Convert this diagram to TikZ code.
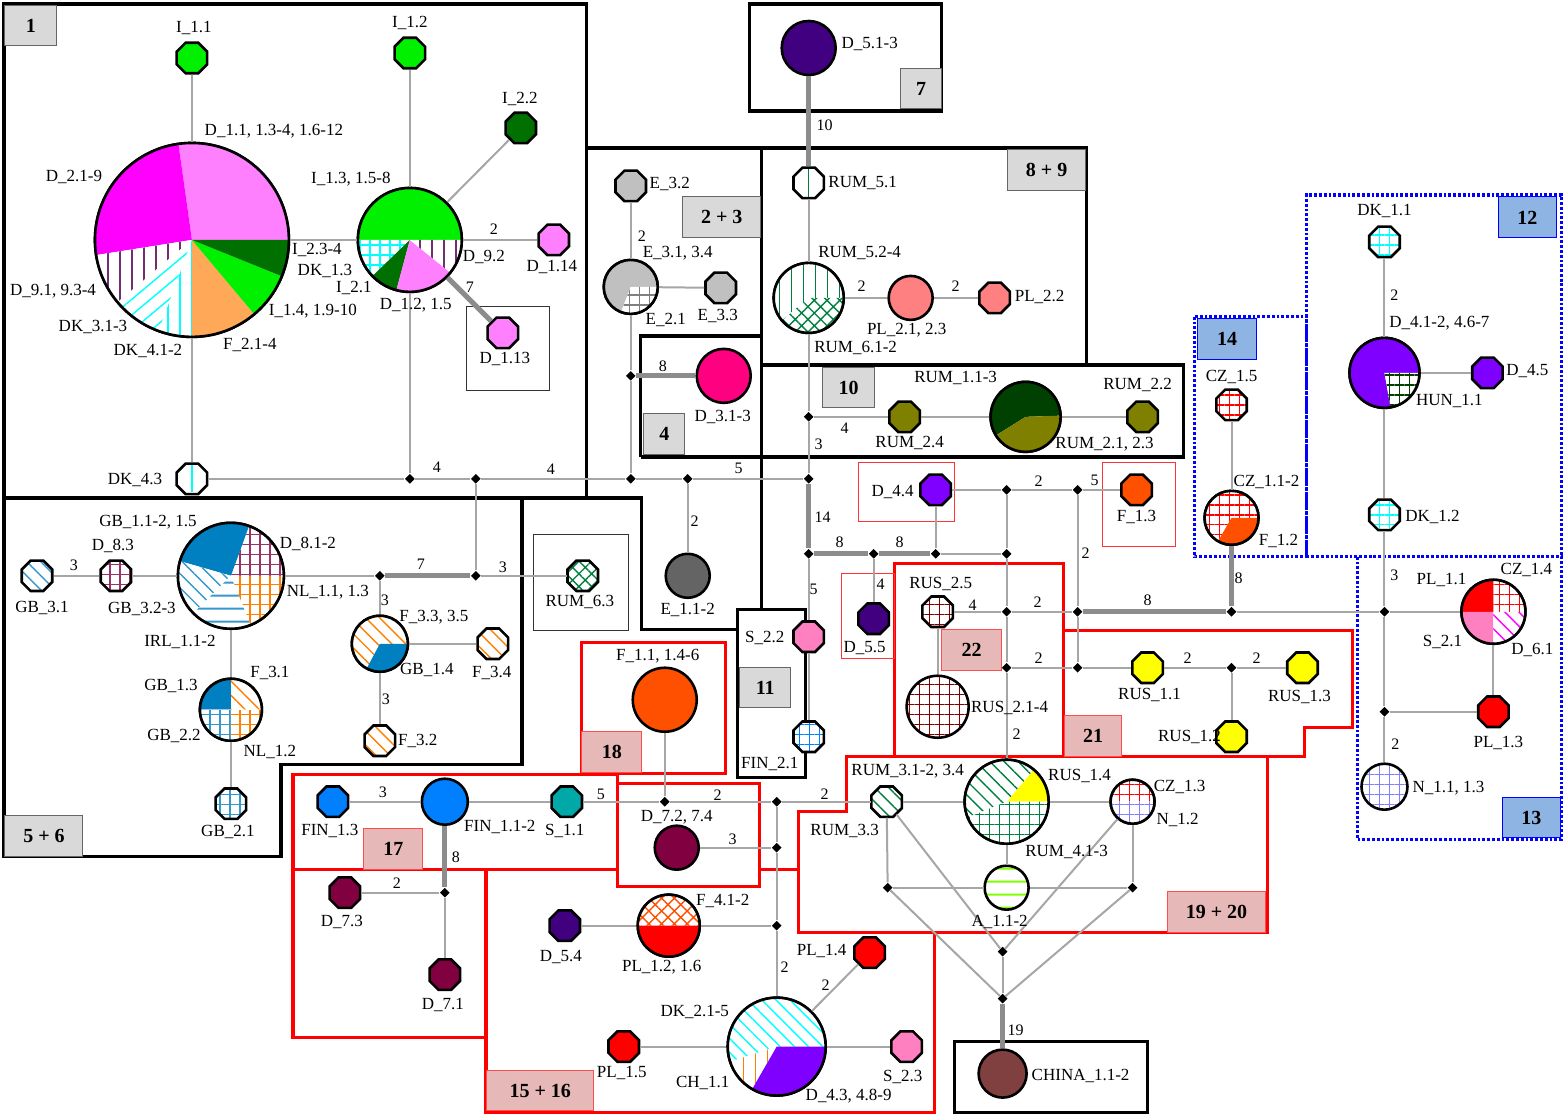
\documentclass[tikz,border=0pt]{standalone}
\usepackage{fontspec}
\setmainfont{Liberation Serif}
\usetikzlibrary{shapes.geometric,patterns.meta}

\definecolor{iGreen}{RGB}{0,240,0}
\definecolor{iDark}{RGB}{0,112,0}
\definecolor{dPink}{RGB}{255,128,255}
\definecolor{dMag}{RGB}{255,0,255}
\definecolor{dNine}{RGB}{112,48,112}
\definecolor{dkCyan}{RGB}{0,255,255}
\definecolor{fOrange}{RGB}{255,168,88}
\definecolor{eGray}{RGB}{192,192,192}
\definecolor{eDark}{RGB}{100,100,100}
\definecolor{dRose}{RGB}{255,0,128}
\definecolor{dIndigo}{RGB}{64,0,128}
\definecolor{rumGreen}{RGB}{0,128,64}
\definecolor{plSalmon}{RGB}{255,128,128}
\definecolor{olive2}{RGB}{128,128,0}
\definecolor{rumDark}{RGB}{0,64,0}
\definecolor{dViolet}{RGB}{128,0,255}
\definecolor{fRed}{RGB}{255,80,0}
\definecolor{sPink}{RGB}{255,128,192}
\definecolor{finBlue}{RGB}{0,128,255}
\definecolor{rusBrown}{RGB}{128,0,0}
\definecolor{rusYellow}{RGB}{255,255,0}
\definecolor{nBlue}{RGB}{128,128,255}
\definecolor{sTeal}{RGB}{0,168,168}
\definecolor{dMaroon}{RGB}{128,0,64}
\definecolor{aLime}{RGB}{128,255,0}
\definecolor{chBrown}{RGB}{128,64,64}
\definecolor{gbBlue}{RGB}{0,128,192}
\definecolor{gbLine}{RGB}{51,153,204}
\definecolor{gbPurple}{RGB}{153,51,102}
\definecolor{nlOrange}{RGB}{255,128,0}
\definecolor{czRed}{RGB}{255,0,0}
\definecolor{tagGray}{RGB}{217,217,217}
\definecolor{tagPink}{RGB}{230,184,183}
\definecolor{tagBlue}{RGB}{141,180,226}

% one sector of a pie: node, radius (pt), start, end, fill
\newcommand\pieslice[5]{%
  \fill[#5] (#1.center) -- ++(#3:#2pt) arc[start angle=#3, end angle=#4, radius=#2pt] -- cycle;}
\newcommand\rim[2]{\draw[line width=1.3pt] (#1.center) circle[radius=#2pt];}

\tikzset{
  pVert/.style={preaction={fill=white}, pattern={Lines[angle=90,distance=6pt,line width=.7pt]}, pattern color=#1},
  pHor/.style={preaction={fill=white}, pattern={Lines[angle=0,distance=6.5pt,line width=1pt]}, pattern color=#1},
  pFwd/.style={preaction={fill=white}, pattern={Lines[angle=40,distance=6pt,line width=.7pt]}, pattern color=#1},
  pBack/.style={preaction={fill=white}, pattern={Lines[angle=-45,distance=5pt,line width=.7pt]}, pattern color=#1},
  pGrid/.style={preaction={fill=white}, pattern={Hatch[angle=0,distance=5pt,line width=.7pt]}, pattern color=#1},
  pCross/.style={preaction={fill=white}, pattern={Hatch[angle=45,distance=4.5pt,line width=.7pt]}, pattern color=#1},
}

\begin{document}
\begin{tikzpicture}[x=0.5pt, y=-0.5pt,
  hap/.style={regular polygon, regular polygon sides=8, minimum size=16.5pt,
    inner sep=0pt, draw=black, line width=1.3pt, fill=#1},
  blob/.style={circle, minimum size=#1pt, inner sep=0pt, draw=black, line width=1.3pt},
  jn/.style={diamond, fill=black, inner sep=0pt, minimum size=5pt},
  link/.style={gray!70, line width=1pt},
  fat/.style={gray!90, line width=2.6pt},
  lab/.style={font=\fontsize{8.5}{9}\selectfont, inner sep=0.5pt},
  num/.style={font=\fontsize{8}{9}\selectfont, inner sep=0.5pt},
  grp/.style={draw=black, line width=1.7pt},
  rgrp/.style={draw=red, line width=1.7pt},
  rthin/.style={draw=red!80, line width=0.6pt},
  bthin/.style={draw=black!80, line width=0.6pt},
  bdot/.style={draw=blue, line width=1.6pt, dash pattern=on 1.4pt off 1pt},
  tagG/.style={fill=tagGray, draw=black!60, line width=0.5pt, inner sep=0pt,
    font=\fontsize{10}{12}\selectfont\bfseries},
  tagR/.style={tagG, fill=tagPink, draw=red!70},
  tagB/.style={tagG, fill=tagBlue, draw=blue}]

  \path[fill=white] (0,0) rectangle (1563,1115);

  % group outlines
  \draw[grp] (4,4) rectangle (587,498);
  \draw[grp] (587,498) -- (642,498) -- (642,630) -- (738,630);
  \draw[grp] (4,498) -- (4,857) -- (281,857) -- (281,765) -- (522,765) -- (522,498);
  \draw[grp] (587,148) -- (1087,148) -- (1087,365);
  \draw[grp] (750,4) rectangle (942,111);
  \draw[grp] (762,148) -- (762,610);
  \draw[grp] (641,457) -- (641,336) -- (762,336);
  \draw[grp] (641,457) -- (1184,457) -- (1184,365) -- (762,365);
  \draw[grp] (738,610) rectangle (806,778);
  \draw[grp] (955,1042) rectangle (1148,1113);

  \draw[rgrp] (582,643) rectangle (726,774);
  \draw[rgrp] (293,775) rectangle (618,870);
  \draw[rgrp] (618,784) rectangle (760,887);
  \draw[rgrp] (293,870) rectangle (486,1038);
  \draw[rgrp] (760,870) -- (799,870);
  \draw[rgrp] (486,1038) -- (486,1113) -- (935,1113) -- (935,933);
  \draw[rgrp] (847,757) -- (1268,757) -- (1268,933) -- (799,933) -- (799,812) -- (847,812) -- cycle;
  \draw[rgrp] (895,564) rectangle (1064,757);
  \draw[rgrp] (1064,631) -- (1353,631) -- (1353,728) -- (1305,728) -- (1305,757) -- (1064,757);

  \draw[rthin] (859,463) rectangle (955,522);
  \draw[rthin] (1103,463) rectangle (1176,547);
  \draw[rthin] (842,574) rectangle (895,659);
  \draw[bthin] (467,307) rectangle (550,391);
  \draw[bthin] (534,535) rectangle (629,631);

  \draw[bdot] (1307,557) -- (1307,195) -- (1562,195) -- (1562,557);
  \draw[bdot] (1195,317) rectangle (1307,557);
  \draw[bdot] (1307,557) -- (1562,557);
  \draw[bdot] (1358,557) rectangle (1562,840);

  % haplotypes
  \foreach \n/\x/\y/\c in {i11/192/58/iGreen, i12/410/53/iGreen, i22/521/128/iDark,
      d114/554/240/dPink, d113/503/333/dPink, e32/631/186/eGray, e33/721/288/eGray,
      pl22/995/298/plSalmon, rum24/905/417/olive2, rum22/1143/417/olive2,
      d44/936/490/dViolet, f13/1137/490/fRed, d55/874/619/dIndigo, s22/809/637/sPink,
      rus11/1148/668/rusYellow, rus13/1303/668/rusYellow, rus12/1232/737/rusYellow,
      d45/1488/373/dViolet, pl13/1494/712/czRed, fin13/333/802/finBlue, s11/567/802/sTeal,
      d73/345/893/dMaroon, d71/445/975/dMaroon, d54/565/926/dIndigo,
      pl14/870/953/czRed, pl15/624/1047/czRed, s23/907/1047/sPink}
    \node[hap=\c] (\n) at (\x,\y) {};

  \node[hap=white, pGrid=dkCyan] (dk11) at (1385,242) {};
  \node[hap=white, pGrid=dkCyan] (dk12) at (1385,515) {};
  \node[hap=white, pGrid=finBlue] (fin21) at (809,737) {};
  \node[hap=white, pGrid=rusBrown] (rus25) at (938,612) {};
  \node[hap=white, pGrid=czRed] (cz15) at (1232,405) {};
  \node[hap=white, pBack=rumGreen] (rum31) at (887,802) {};
  \node[hap=white, pBack=gbLine] (gb31) at (37,576) {};
  \node[hap=white, pGrid=gbPurple] (d83) at (116,576) {};
  \node[hap=white, pBack=nlOrange] (f34) at (493,644) {};
  \node[hap=white, pBack=nlOrange] (f32) at (380,741) {};
  \node[hap=white, pGrid=gbLine] (gb21) at (231,804) {};
  \node[hap=white, pCross=rumGreen] (rum63) at (583,576) {};
  \node[hap=white] (dk43) at (192,479) {};
  \node[hap=white] (rum51) at (809,183) {};
  \draw[dkCyan, line width=1pt] ([yshift=-6.8pt]dk43.center) -- ([yshift=6.8pt]dk43.center);
  \draw[rumGreen, line width=0.8pt] ([yshift=-6.8pt]rum51.center) -- ([yshift=6.8pt]rum51.center);

  \node[blob=27, fill=dRose] (d31) at (724,376) {};
  \node[blob=22, fill=eDark] (e11) at (688,576) {};
  \node[blob=27, fill=dIndigo] (d51) at (809,48) {};
  \node[blob=22, fill=plSalmon] (pl21) at (911,298) {};
  \node[blob=31, pGrid=rusBrown] (rus21) at (938,707) {};
  \node[blob=22, pHor=aLime] (a11) at (1007,888) {};
  \node[blob=24, fill=chBrown] (china) at (1003,1074) {};
  \node[blob=32, fill=fRed] (f11) at (665,700) {};
  \node[blob=22, fill=dMaroon] (d72) at (677,848) {};
  \node[blob=23, fill=finBlue] (fin11) at (445,802) {};
  \node[blob=23, pGrid=nBlue] (n11) at (1385,787) {};

  % pies
  \node[blob=97, fill=white] (dpie) at (192,240) {};
  \pieslice{dpie}{48.5}{0}{98}{dPink}
  \pieslice{dpie}{48.5}{98}{189}{dMag}
  \pieslice{dpie}{48.5}{189}{220}{pVert=dNine}
  \pieslice{dpie}{48.5}{220}{250}{pFwd=dkCyan}
  \pieslice{dpie}{48.5}{250}{270}{pVert=dkCyan}
  \pieslice{dpie}{48.5}{270}{310}{fOrange}
  \pieslice{dpie}{48.5}{310}{338}{iGreen}
  \pieslice{dpie}{48.5}{338}{360}{iDark}
  \rim{dpie}{48.5}

  \node[blob=52, fill=white] (ipie) at (410,240) {};
  \pieslice{ipie}{26}{0}{180}{iGreen}
  \pieslice{ipie}{26}{180}{224}{pGrid=dkCyan}
  \pieslice{ipie}{26}{224}{255}{iDark}
  \pieslice{ipie}{26}{255}{321}{dPink}
  \pieslice{ipie}{26}{321}{360}{pVert=dNine}
  \rim{ipie}{26}

  \node[blob=27, fill=white] (epie) at (631,287) {};
  \pieslice{epie}{13.5}{0}{249}{eGray}
  \pieslice{epie}{13.5}{249}{360}{pGrid=gray}
  \rim{epie}{13.5}

  \node[blob=35, fill=white] (rum52) at (809,298) {};
  \pieslice{rum52}{17.5}{0}{220}{pVert=rumGreen}
  \pieslice{rum52}{17.5}{220}{360}{pCross=rumGreen}
  \rim{rum52}{17.5}

  \node[blob=35, fill=white] (rum11) at (1026,417) {};
  \pieslice{rum11}{17.5}{2}{212}{rumDark}
  \pieslice{rum11}{17.5}{-148}{2}{olive2}
  \rim{rum11}{17.5}

  \node[blob=35, fill=white] (dpie4) at (1385,373) {};
  \pieslice{dpie4}{17.5}{0}{280}{dViolet}
  \pieslice{dpie4}{17.5}{280}{360}{pGrid=rumDark}
  \rim{dpie4}{17.5}

  \node[blob=27, fill=white] (cz11) at (1232,518) {};
  \pieslice{cz11}{13.5}{0}{240}{pGrid=czRed}
  \pieslice{cz11}{13.5}{240}{360}{fRed}
  \rim{cz11}{13.5}

  \node[blob=32, fill=white] (pl11) at (1494,612) {};
  \pieslice{pl11}{16}{0}{90}{pGrid=czRed}
  \pieslice{pl11}{16}{90}{180}{czRed}
  \pieslice{pl11}{16}{180}{270}{sPink}
  \pieslice{pl11}{16}{270}{360}{pBack=dMag}
  \rim{pl11}{16}

  \node[blob=53, fill=white] (gbpie) at (231,576) {};
  \pieslice{gbpie}{26.5}{0}{70}{pGrid=gbPurple}
  \pieslice{gbpie}{26.5}{70}{164}{gbBlue}
  \pieslice{gbpie}{26.5}{164}{225}{pBack=gbLine}
  \pieslice{gbpie}{26.5}{225}{292}{pHor=gbLine}
  \pieslice{gbpie}{26.5}{292}{360}{pGrid=nlOrange}
  \rim{gbpie}{26.5}

  \node[blob=28, fill=white] (f33) at (380,644) {};
  \pieslice{f33}{14}{0}{242}{pBack=nlOrange}
  \pieslice{f33}{14}{242}{360}{gbBlue}
  \rim{f33}{14}

  \node[blob=31, fill=white] (gb13) at (231,710) {};
  \pieslice{gb13}{15.5}{0}{90}{pBack=nlOrange}
  \pieslice{gb13}{15.5}{90}{180}{gbBlue}
  \pieslice{gb13}{15.5}{180}{270}{pGrid=gbLine}
  \pieslice{gb13}{15.5}{270}{360}{pGrid=nlOrange}
  \rim{gb13}{15.5}

  \node[blob=42, fill=white] (rus14) at (1007,802) {};
  \pieslice{rus14}{21}{0}{50}{rusYellow}
  \pieslice{rus14}{21}{50}{202}{pBack=rumGreen}
  \pieslice{rus14}{21}{202}{360}{pGrid=rumGreen}
  \rim{rus14}{21}

  \node[blob=22, fill=white] (cz13) at (1133,802) {};
  \pieslice{cz13}{11}{0}{180}{pGrid=czRed}
  \pieslice{cz13}{11}{180}{360}{pGrid=nBlue}
  \rim{cz13}{11}

  \node[blob=31, fill=white] (f41) at (669,926) {};
  \pieslice{f41}{15.5}{0}{180}{pCross=fRed}
  \pieslice{f41}{15.5}{180}{360}{czRed}
  \rim{f41}{15.5}

  \node[blob=49, fill=white] (dkpie) at (777,1047) {};
  \pieslice{dkpie}{24.5}{0}{198}{pBack=dkCyan}
  \pieslice{dkpie}{24.5}{198}{240}{pVert=nlOrange}
  \pieslice{dkpie}{24.5}{240}{360}{dViolet}
  \rim{dkpie}{24.5}

  % median vectors
  \foreach \n/\x/\y in {j1/410/479, j2/476/479, j3/631/479, j4/688/479, j5/809/479,
      j6/476/576, j7/380/576, j8/631/376, j9/809/417, j10/809/554, j11/874/554,
      j12/936/554, j13/1007/554, j14/1007/490, j15/1078/490, j16/1007/612,
      j17/1007/668, j18/1078/612, j19/1078/668, j20/1232/612, j21/1385/612,
      j22/1232/668, j23/1385/712, j24/665/802, j25/777/802, j26/777/848,
      j27/777/926, j28/445/893, j29/888/888, j30/1133/888, j31/1003/952, j32/1003/999}
    \node[jn] (\n) at (\x,\y) {};

  % links
  \foreach \a/\b in {i11/dpie, dpie/ipie, i12/ipie, i22/ipie, ipie/d114, dpie/dk43,
      ipie/j1, dk43/j1, j1/j2, j2/j3, j3/j4, j4/j5, j2/j6, j6/rum63, j7/gbpie,
      gb31/d83, d83/gbpie, gbpie/gb13, gb13/gb21, j7/f33, f33/f34, f33/f32,
      j3/j8, j8/epie, epie/e32, epie/e33, j4/e11, j5/j9, j9/rum52, rum52/rum51,
      rum52/pl21, pl21/pl22, j9/rum24, rum24/rum11, rum11/rum22, j12/j13,
      j11/d55, j12/d44, d44/j14, j14/j15, j15/f13, j14/j13, j13/j16, j16/j17,
      j17/rus14, j15/j18, j18/j19, rus25/j16, j16/j18, j20/j21, j21/pl11,
      rus25/rus21, j17/j19, j19/rus11, rus11/j22, j22/rus13, j22/rus12,
      j10/s22, s22/fin21, cz15/cz11, dk11/dpie4, dpie4/d45, dpie4/dk12,
      dk12/j21, j21/j23, j23/n11, j23/pl13, pl11/pl13, fin13/fin11, fin11/s11,
      s11/j24, j24/j25, j25/rum31, rum31/rus14, rus14/cz13, j24/f11, d72/j26,
      j25/j26, j26/j27, j27/dkpie, d54/f41, f41/j27, dkpie/pl14, dkpie/pl15,
      dkpie/s23, j28/d73, j28/d71, rum31/j29, j29/a11, a11/j30, cz13/j30,
      rus14/a11, rum31/j31, cz13/j31, j29/j32, j30/j32, j31/j32}
    \draw[link] (\a) -- (\b);
  \foreach \a/\b in {ipie/d113, j6/j7, j8/d31, rum51/d51, j5/j10, j10/j11,
      j11/j12, j18/j20, j20/cz11, fin11/j28, j32/china}
    \draw[fat] (\a) -- (\b);

  % mutation counts
  \foreach \x/\y/\txt [count=\k] in {494/229/2, 470/287/7, 437/467/4, 551/469/4,
      739/469/5, 421/564/7, 503/567/3, 74/565/3, 385/600/3, 386/700/3, 642/236/2,
      663/366/8, 695/521/2, 825/125/10, 862/286/2, 956/286/2, 845/428/4, 819/444/3,
      823/517/14, 840/542/8, 900/542/8, 1039/481/2, 1095/481/5, 1086/553/2,
      881/584/4, 814/590/5, 973/605/4, 1038/602/2, 1148/600/8, 1239/578/8,
      1039/658/2, 1017/734/2, 1188/658/2, 1257/658/2, 1395/295/2, 1395/575/3,
      1396/744/2, 383/793/3, 601/795/5, 718/795/2, 825/794/2, 733/840/3,
      456/858/8, 397/884/2, 785/968/2, 826/986/2, 1016/1031/19}
    \node[num] (w\k) at (\x,\y) {\txt};

  % haplotype names
  \foreach \x/\y/\txt [count=\k] in {194/28/{I\_1.1}, 410/23/{I\_1.2}, 520/99/{I\_2.2},
      274/131/{D\_1.1, 1.3-4, 1.6-12}, 74/177/{D\_2.1-9}, 351/179/{I\_1.3, 1.5-8},
      317/250/{I\_2.3-4}, 325/271/{DK\_1.3}, 354/288/{I\_2.1}, 53/291/{D\_9.1, 9.3-4},
      313/311/{I\_1.4, 1.9-10}, 93/327/{DK\_3.1-3}, 148/351/{DK\_4.1-2},
      250/345/{F\_2.1-4}, 416/305/{D\_1.2, 1.5}, 484/257/{D\_9.2},
      552/267/{D\_1.14}, 505/359/{D\_1.13}, 135/480/{DK\_4.3},
      670/184/{E\_3.2}, 678/253/{E\_3.1, 3.4}, 666/320/{E\_2.1}, 718/316/{E\_3.3},
      723/417/{D\_3.1-3}, 688/610/{E\_1.1-2}, 870/44/{D\_5.1-3}, 863/183/{RUM\_5.1},
      860/253/{RUM\_5.2-4}, 1040/297/{PL\_2.2}, 907/330/{PL\_2.1, 2.3},
      856/348/{RUM\_6.1-2}, 956/378/{RUM\_1.1-3}, 1138/385/{RUM\_2.2},
      910/443/{RUM\_2.4}, 1105/444/{RUM\_2.1, 2.3}, 893/492/{D\_4.4},
      1137/517/{F\_1.3}, 865/648/{D\_5.5}, 941/584/{RUS\_2.5}, 1010/708/{RUS\_2.1-4},
      1150/695/{RUS\_1.1}, 1300/697/{RUS\_1.3}, 1190/737/{RUS\_1.2},
      765/638/{S\_2.2}, 770/764/{FIN\_2.1},
      1385/211/{DK\_1.1}, 1440/323/{D\_4.1-2, 4.6-7}, 1528/371/{D\_4.5},
      1450/401/{HUN\_1.1}, 1433/517/{DK\_1.2}, 1232/377/{CZ\_1.5},
      1267/482/{CZ\_1.1-2}, 1279/541/{F\_1.2}, 1442/580/{PL\_1.1},
      1527/570/{CZ\_1.4}, 1443/642/{S\_2.1}, 1533/650/{D\_6.1},
      1499/743/{PL\_1.3}, 1449/788/{N\_1.1, 1.3},
      148/522/{GB\_1.1-2, 1.5}, 113/546/{D\_8.3}, 308/544/{D\_8.1-2},
      328/592/{NL\_1.1, 1.3}, 42/608/{GB\_3.1}, 142/609/{GB\_3.2-3},
      180/642/{IRL\_1.1-2}, 270/673/{F\_3.1}, 171/686/{GB\_1.3}, 174/736/{GB\_2.2},
      270/752/{NL\_1.2}, 228/832/{GB\_2.1}, 434/617/{F\_3.3, 3.5}, 427/670/{GB\_1.4},
      492/673/{F\_3.4}, 418/741/{F\_3.2}, 580/602/{RUM\_6.3},
      658/656/{F\_1.1, 1.4-6}, 330/831/{FIN\_1.3}, 500/827/{FIN\_1.1-2},
      565/831/{S\_1.1}, 677/817/{D\_7.2, 7.4}, 342/922/{D\_7.3}, 443/1005/{D\_7.1},
      723/901/{F\_4.1-2}, 561/957/{D\_5.4}, 662/968/{PL\_1.2, 1.6},
      695/1012/{DK\_2.1-5}, 622/1073/{PL\_1.5}, 703/1083/{CH\_1.1},
      849/1097/{D\_4.3, 4.8-9}, 822/951/{PL\_1.4}, 903/1077/{S\_2.3},
      908/771/{RUM\_3.1-2, 3.4}, 845/831/{RUM\_3.3}, 1080/776/{RUS\_1.4},
      1180/787/{CZ\_1.3}, 1178/820/{N\_1.2}, 1067/852/{RUM\_4.1-3},
      1000/922/{A\_1.1-2}, 1081/1076/{CHINA\_1.1-2}}
    \node[lab] (lab\k) at (\x,\y) {\txt};

  % group numbers
  \node[tagG, minimum width=26pt, minimum height=20.5pt] (t1) at (31,25.5) {1};
  \node[tagG, minimum width=39pt, minimum height=20.5pt] (t23) at (722,217.5) {2 + 3};
  \node[tagG, minimum width=20.5pt, minimum height=20.5pt] (t4) at (664.5,434.5) {4};
  \node[tagG, minimum width=20.5pt, minimum height=20pt] (t7) at (921.5,89) {7};
  \node[tagG, minimum width=39pt, minimum height=20.5pt] (t89) at (1047,170.5) {8 + 9};
  \node[tagG, minimum width=26pt, minimum height=20pt] (t10) at (849,388) {10};
  \node[tagG, minimum width=39pt, minimum height=20.5pt] (t56) at (44,836.5) {5 + 6};
  \node[tagG, minimum width=25.5pt, minimum height=20pt] (t11) at (765.5,688) {11};
  \node[tagR, minimum width=30pt, minimum height=20.5pt] (t18) at (612,752.5) {18};
  \node[tagR, minimum width=29.5pt, minimum height=20.5pt] (t17) at (393.5,849.5) {17};
  \node[tagR, minimum width=53.5pt, minimum height=20pt] (t1516) at (540.5,1091) {15 + 16};
  \node[tagR, minimum width=30pt, minimum height=20.5pt] (t22) at (972,650.5) {22};
  \node[tagR, minimum width=28.5pt, minimum height=20.5pt] (t21) at (1093.5,736.5) {21};
  \node[tagR, minimum width=49pt, minimum height=20.5pt] (t1920) at (1217,912.5) {19 + 20};
  \node[tagB, minimum width=29pt, minimum height=20.5pt] (t12) at (1528,217.5) {12};
  \node[tagB, minimum width=29pt, minimum height=20pt] (t13) at (1532,818) {13};
  \node[tagB, minimum width=29.5pt, minimum height=20.5pt] (t14) at (1227.5,339.5) {14};
\end{tikzpicture}
\end{document}
